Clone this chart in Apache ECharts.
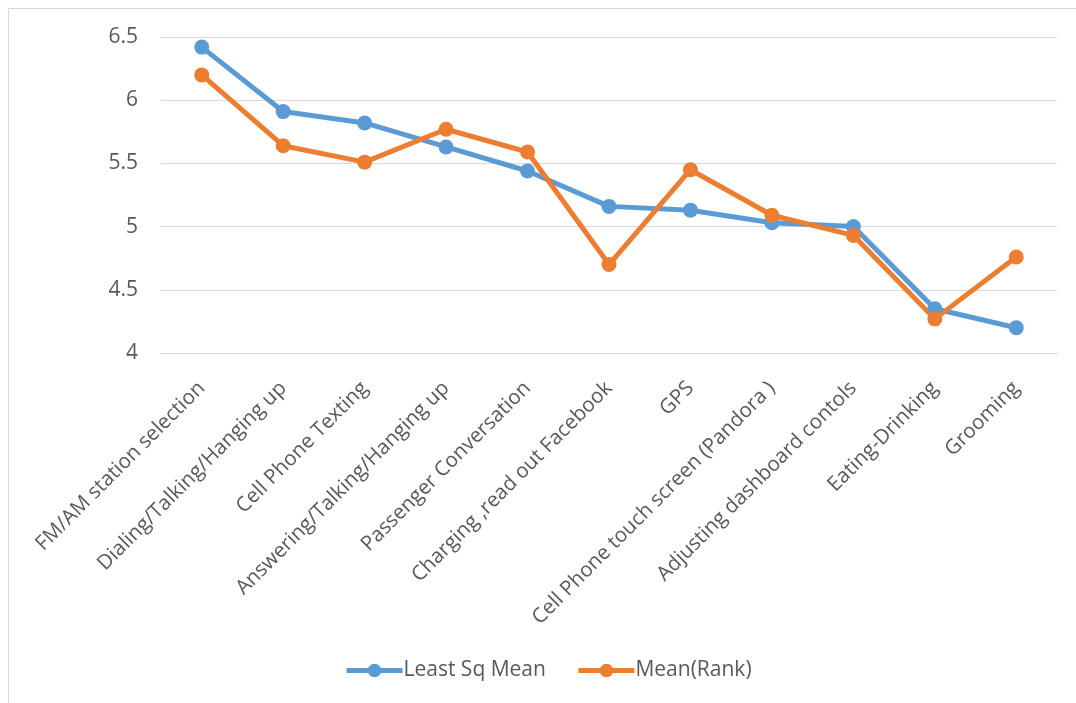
<!DOCTYPE html>
<html>
<head>
<meta charset="utf-8">
<script src="https://cdn.jsdelivr.net/npm/echarts@6/dist/echarts.min.js"></script>
<style>
  html, body { margin: 0; padding: 0; background: #ffffff; }
  #chart { width: 1076px; height: 703px; }
</style>
</head>
<body>
<div id="chart"></div>
<script>
// Distraction tasks on the category axis
const categories = [
  'FM/AM station selection',
  'Dialing/Talking/Hanging up',
  'Cell Phone Texting',
  'Answering/Talking/Hanging up',
  'Passenger Conversation',
  'Charging ,read out Facebook',
  'GPS',
  'Cell Phone touch screen (Pandora )',
  'Adjusting dashboard contols',
  'Eating-Drinking',
  'Grooming'
];

// Series values
const leastSqMean = [6.42, 5.91, 5.82, 5.63, 5.44, 5.16, 5.13, 5.03, 5.00, 4.35, 4.20];
const meanRank    = [6.20, 5.64, 5.51, 5.77, 5.59, 4.70, 5.45, 5.09, 4.93, 4.27, 4.76];

const seriesNames = ['Least Sq Mean', 'Mean(Rank)'];
const yTicks = { min: 4, max: 6.5, interval: 0.5 };

const textColor = '#595959';
const gridColor = '#d9d9d9';
const fontFamily = '"Open Sans", "Noto Sans", sans-serif';

const chart = echarts.init(document.getElementById('chart'), null, { renderer: 'canvas' });

function lineSeries(name, data, color) {
  return {
    name: name,
    type: 'line',
    data: data,
    symbol: 'circle',
    symbolSize: 15,
    showAllSymbol: true,
    lineStyle: { color: color, width: 5 },
    itemStyle: { color: color },
    emphasis: { disabled: true },
    animation: false
  };
}

chart.setOption({
  animation: false,
  backgroundColor: '#ffffff',
  textStyle: { fontFamily: fontFamily, color: textColor },
  graphic: [{
    type: 'rect',
    shape: { x: 8.5, y: 8.5, width: 1200, height: 800 },
    style: { fill: 'none', stroke: gridColor, lineWidth: 1 },
    silent: true,
    z: -1
  }],
  grid: { left: 161, right: 19, top: 37, bottom: 350, containLabel: false },
  legend: {
    data: seriesNames,
    left: 339,
    top: 655,
    itemWidth: 56,
    itemHeight: 17,
    itemGap: 30,
    lineStyle: { width: 5 },
    textStyle: { fontFamily: fontFamily, fontSize: 21, color: textColor, padding: [0, 0, 0, -4] }
  },
  xAxis: {
    type: 'category',
    data: categories,
    boundaryGap: true,
    axisLine: { show: true, lineStyle: { color: gridColor, width: 1 } },
    axisTick: { show: false },
    axisLabel: {
      rotate: 45,
      interval: 0,
      margin: 32,
      fontSize: 20.5,
      fontFamily: fontFamily,
      color: textColor
    }
  },
  yAxis: {
    type: 'value',
    min: yTicks.min,
    max: yTicks.max,
    interval: yTicks.interval,
    axisLine: { show: false },
    axisTick: { show: false },
    splitLine: { show: true, lineStyle: { color: gridColor, width: 1 } },
    axisLabel: {
      margin: 23,
      fontSize: 21,
      fontFamily: fontFamily,
      color: textColor,
      formatter: function (v) { return String(v); }
    }
  },
  series: [
    lineSeries(seriesNames[0], leastSqMean, '#5b9bd5'),
    lineSeries(seriesNames[1], meanRank, '#ed7d31')
  ]
});
</script>
</body>
</html>
